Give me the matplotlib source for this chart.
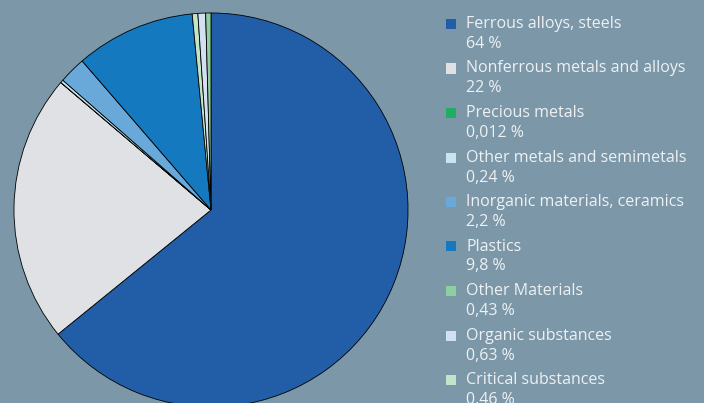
import matplotlib
matplotlib.use("Agg")
import matplotlib.pyplot as plt
from matplotlib.patches import Rectangle

categories = ["Ferrous alloys, steels", "Nonferrous metals and alloys", "Precious metals",
              "Other metals and semimetals", "Inorganic materials, ceramics", "Plastics",
              "Other Materials", "Organic substances", "Critical substances"]
values = [64, 22, 0.012, 0.24, 2.2, 9.8, 0.43, 0.63, 0.46]
value_labels = ["64 %", "22 %", "0,012 %", "0,24 %", "2,2 %", "9,8 %", "0,43 %", "0,63 %", "0,46 %"]
colors = ["#225ea8", "#e0e1e4", "#1fad5f", "#c5e6ee", "#68a9da", "#1479bf",
          "#8ecf9e", "#d2e0f2", "#c2e5c8"]
# clockwise order of slices around the pie, starting at 12 o'clock
pie_order = [0, 1, 2, 3, 4, 5, 8, 7, 6]

bg = "#7b97a8"
W, H = 704, 403
fig = plt.figure(figsize=(W / 100, H / 100), dpi=100, facecolor=bg)

cx, cy, r = 211, 210, 198
ax = fig.add_axes([(cx - r) / W, (H - cy - r) / H, 2 * r / W, 2 * r / H])
ax.set_facecolor(bg)
ax.pie([values[i] for i in pie_order], colors=[colors[i] for i in pie_order],
       startangle=90, counterclock=False, radius=1,
       wedgeprops=dict(edgecolor="black", linewidth=0.6))
ax.set_xlim(-1.005, 1.005)
ax.set_ylim(-1.005, 1.005)
ax.axis("off")

font = "Open Sans"
tc = "#eef1f3"
y0, dy = 24, 44.5
for i, (cat, lab, col) in enumerate(zip(categories, value_labels, colors)):
    y = y0 + i * dy
    fig.patches.append(Rectangle((446 / W, 1 - (y + 5) / H), 10 / W, 10 / H,
                                 transform=fig.transFigure, facecolor=col,
                                 edgecolor="none"))
    fig.text(466 / W, 1 - y / H, cat, color=tc, fontsize=11.5, family=font,
             va="center", ha="left")
    fig.text(466 / W, 1 - (y + 20) / H, lab, color=tc, fontsize=11.5, family=font,
             va="center", ha="left")

fig.savefig("out.png", dpi=100, facecolor=bg)
